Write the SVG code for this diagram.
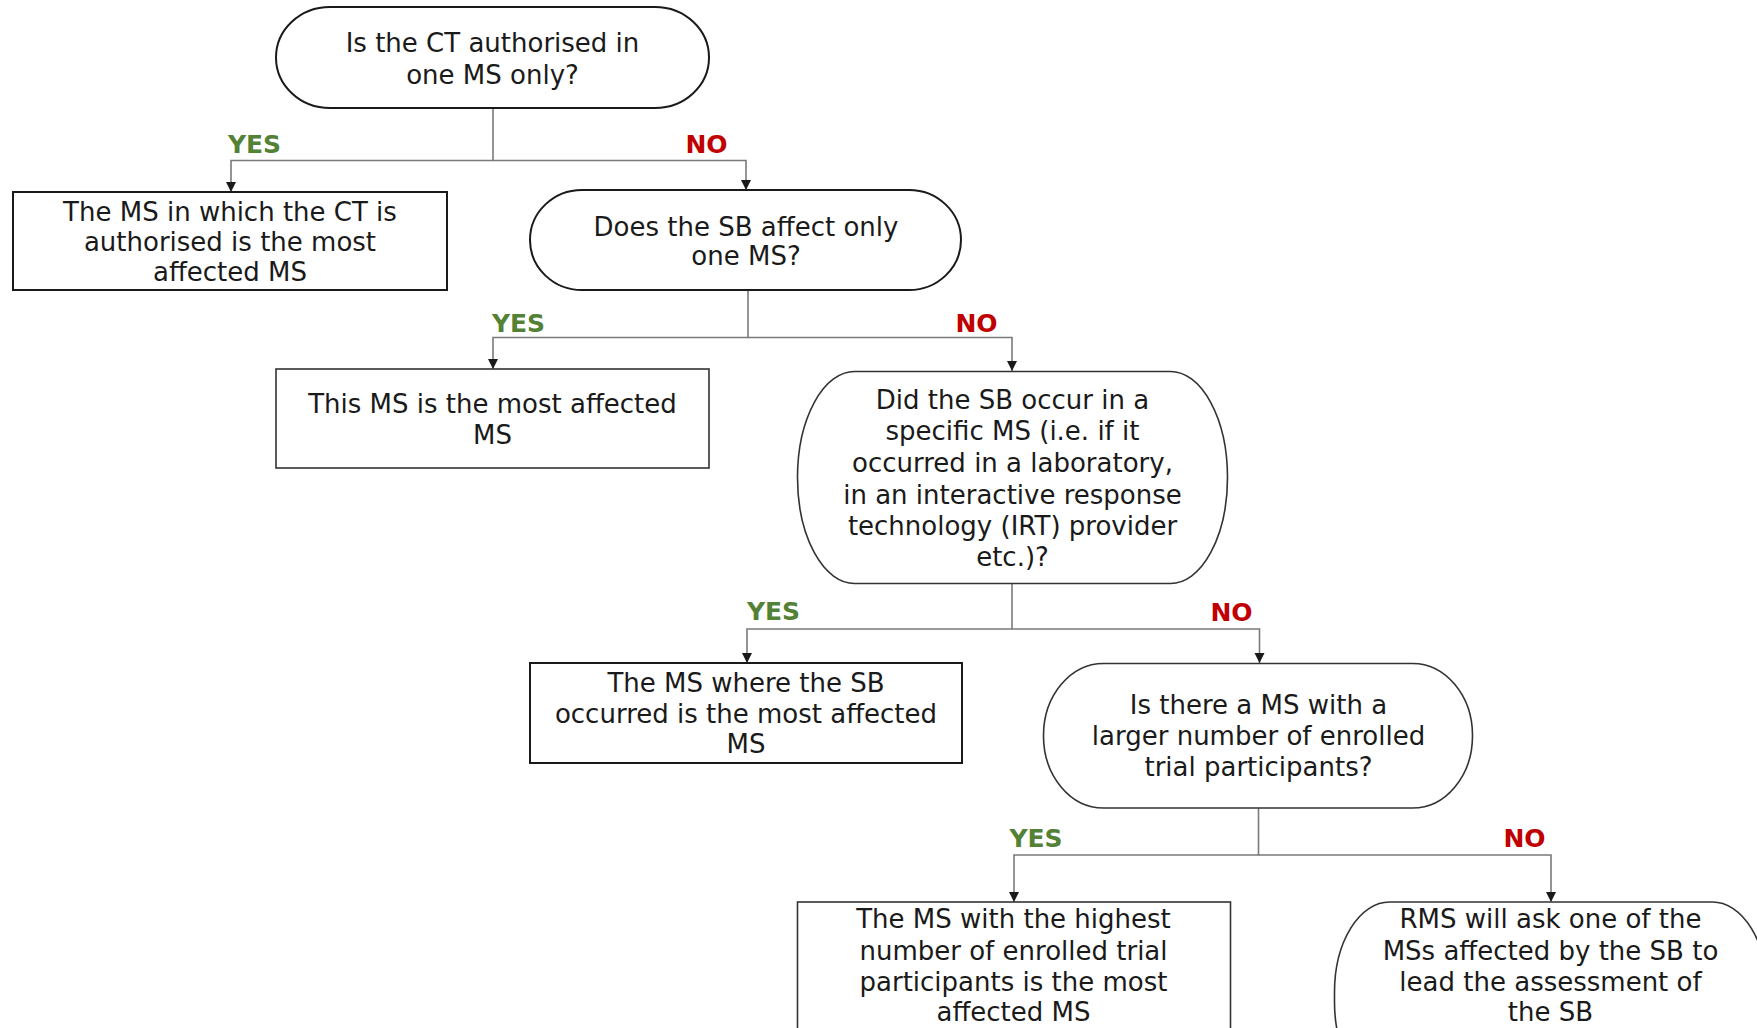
<svg xmlns="http://www.w3.org/2000/svg" width="1757" height="1028" viewBox="0 0 1757 1028">
<style>
.bg{fill:#ffffff}
.node{fill:#ffffff;stroke:#1a1a1a;stroke-width:2}
.node.thin{stroke:#333333;stroke-width:1.6}
.t{font-family:"DejaVu Sans","Liberation Sans",sans-serif;font-size:26px;fill:#1a1a1a;text-anchor:middle}
.lbl{font-family:"DejaVu Sans","Liberation Sans",sans-serif;font-size:25px;font-weight:bold;text-anchor:middle}
.yes{fill:#538135}
.no{fill:#c00000}
.conn{fill:none;stroke:#7a7a7a;stroke-width:1.6}
</style>
<defs>
<marker id="arr" markerUnits="userSpaceOnUse" markerWidth="10" markerHeight="12" refX="5" refY="11" orient="auto-start-reverse" viewBox="0 0 10 12">
<path d="M0,0 L10,0 L5,11 Z" fill="#1a1a1a" transform="rotate(0)"/>
</marker>
<marker id="arrd" markerUnits="userSpaceOnUse" markerWidth="10" markerHeight="12" refX="10" refY="5" orient="auto" viewBox="0 0 10 10">
<path d="M0,0 L10,5 L0,10 Z" fill="#1a1a1a"/>
</marker>
</defs>
<rect class="bg" x="0" y="0" width="1757" height="1028"/>

<g id="connectors">
<path class="conn" d="M493,108 V160.5 H231 V192" marker-end="url(#arrd)"/>
<path class="conn" d="M493,160.5 H746 V190" marker-end="url(#arrd)"/>
<path class="conn" d="M748,290 V337.5 H493 V369" marker-end="url(#arrd)"/>
<path class="conn" d="M748,337.5 H1012 V371" marker-end="url(#arrd)"/>
<path class="conn" d="M1012,584 V629 H747 V663" marker-end="url(#arrd)"/>
<path class="conn" d="M1012,629 H1259.5 V663" marker-end="url(#arrd)"/>
<path class="conn" d="M1258.5,808 V855 H1014 V902" marker-end="url(#arrd)"/>
<path class="conn" d="M1258.5,855 H1551 V902" marker-end="url(#arrd)"/>
<text class="lbl yes" x="254.5" y="153">YES</text>
<text class="lbl no" x="706.5" y="153">NO</text>
<text class="lbl yes" x="518.5" y="332">YES</text>
<text class="lbl no" x="976.5" y="332">NO</text>
<text class="lbl yes" x="773.5" y="620">YES</text>
<text class="lbl no" x="1231.5" y="621">NO</text>
<text class="lbl yes" x="1036" y="847">YES</text>
<text class="lbl no" x="1524.5" y="847">NO</text>
</g>

<g id="q1">
<rect class="node" x="276" y="7" width="433" height="101" rx="54" ry="50.5"/>
<text class="t" x="492.5" y="52">Is the CT authorised in</text>
<text class="t" x="492.5" y="84">one MS only?</text>
</g>

<g id="r1">
<rect class="node" x="13" y="192" width="434" height="98"/>
<text class="t" x="230" y="221">The MS in which the CT is</text>
<text class="t" x="230" y="251">authorised is the most</text>
<text class="t" x="230" y="281">affected MS</text>
</g>

<g id="q2">
<rect class="node" x="530" y="190" width="431" height="100" rx="52" ry="50"/>
<text class="t" x="746" y="236">Does the SB affect only</text>
<text class="t" x="746" y="265">one MS?</text>
</g>

<g id="r2">
<rect class="node thin" x="276" y="369" width="433" height="99"/>
<text class="t" x="492.5" y="413">This MS is the most affected</text>
<text class="t" x="492.5" y="444">MS</text>
</g>

<g id="q3">
<rect class="node thin" x="797.5" y="371.5" width="430" height="212" rx="57" ry="106"/>
<text class="t" x="1012.5" y="409">Did the SB occur in a</text>
<text class="t" x="1012.5" y="440">specific MS (i.e. if it</text>
<text class="t" x="1012.5" y="472">occurred in a laboratory,</text>
<text class="t" x="1012.5" y="504">in an interactive response</text>
<text class="t" x="1012.5" y="535">technology (IRT) provider</text>
<text class="t" x="1012.5" y="566">etc.)?</text>
</g>

<g id="r3">
<rect class="node" x="530" y="663" width="432" height="100"/>
<text class="t" x="746" y="692">The MS where the SB</text>
<text class="t" x="746" y="723">occurred is the most affected</text>
<text class="t" x="746" y="753">MS</text>
</g>

<g id="q4">
<rect class="node thin" x="1043.5" y="663.5" width="429" height="144.5" rx="60" ry="72"/>
<text class="t" x="1258.5" y="714">Is there a MS with a</text>
<text class="t" x="1258.5" y="745">larger number of enrolled</text>
<text class="t" x="1258.5" y="776">trial participants?</text>
</g>

<g id="r4">
<rect class="node thin" x="797.5" y="902" width="433" height="160"/>
<text class="t" x="1013.5" y="928">The MS with the highest</text>
<text class="t" x="1013.5" y="960">number of enrolled trial</text>
<text class="t" x="1013.5" y="991">participants is the most</text>
<text class="t" x="1013.5" y="1021">affected MS</text>
</g>

<g id="r5">
<rect class="node thin" x="1334.5" y="902" width="433" height="190" rx="55" ry="90"/>
<text class="t" x="1550.5" y="928">RMS will ask one of the</text>
<text class="t" x="1550.5" y="960">MSs affected by the SB to</text>
<text class="t" x="1550.5" y="991">lead the assessment of</text>
<text class="t" x="1550.5" y="1021">the SB</text>
</g>
</svg>
